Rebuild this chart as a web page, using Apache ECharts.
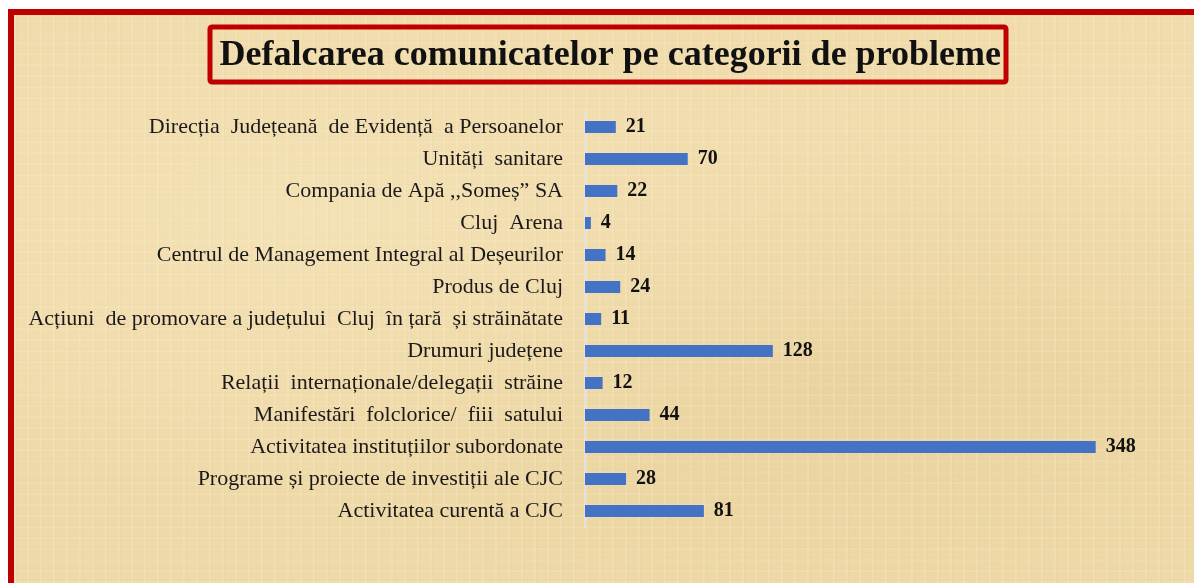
<!DOCTYPE html>
<html>
<head>
<meta charset="utf-8">
<script src="https://cdn.jsdelivr.net/npm/echarts@6/dist/echarts.min.js"></script>
<style>
  html, body {
    margin: 0;
    padding: 0;
    width: 1194px;
    height: 583px;
    background: #fff;
    overflow: hidden;
  }
  .frame {
    position: absolute;
    left: 8px;
    top: 9px;
    right: 0;
    bottom: 0;
    border-left: 6px solid #c00000;
    border-top: 6px solid #c00000;
    background-color: #eed9a8;
    background-image:
      repeating-linear-gradient(90deg, rgba(255, 244, 210, 0.18) 0 2px, rgba(205, 175, 115, 0.06) 2px 3px, rgba(255, 240, 200, 0) 3px 13px),
      repeating-linear-gradient(0deg, rgba(255, 244, 210, 0.12) 0 2px, rgba(205, 175, 115, 0.04) 2px 3px, rgba(255, 240, 200, 0) 3px 11px),
      radial-gradient(ellipse at 25% 35%, rgba(246, 228, 186, 0.7), rgba(230, 205, 150, 0) 55%),
      radial-gradient(ellipse at 70% 65%, rgba(228, 203, 148, 0.45), rgba(230, 205, 150, 0) 50%),
      radial-gradient(ellipse at 95% 20%, rgba(245, 225, 180, 0.5), rgba(230, 205, 150, 0) 40%);
  }
  #chart {
    position: absolute;
    left: 0;
    top: 0;
    width: 1194px;
    height: 583px;
  }
</style>
</head>
<body>
<div class="frame"></div>
<div id="chart"></div>
<script>
// categorii, de sus in jos
const categories = [
  'Direcția  Județeană  de Evidență  a Persoanelor',
  'Unități  sanitare',
  'Compania de Apă ,,Someș” SA',
  'Cluj  Arena',
  'Centrul de Management Integral al Deșeurilor',
  'Produs de Cluj',
  'Acțiuni  de promovare a județului  Cluj  în țară  și străinătate',
  'Drumuri județene',
  'Relații  internaționale/delegații  străine',
  'Manifestări  folclorice/  fiii  satului',
  'Activitatea instituțiilor subordonate',
  'Programe și proiecte de investiții ale CJC',
  'Activitatea curentă a CJC'
]
const values = [21, 70, 22, 4, 14, 24, 11, 128, 12, 44, 348, 28, 81]
const titleText = 'Defalcarea comunicatelor pe categorii de probleme'

function getOptions() {
  return {
    backgroundColor: 'transparent',
    animation: false,
    title: {
      text: titleText,
      left: 209.5,
      top: 26.5,
      padding: [10, 5, 8, 10],
      borderColor: '#c00000',
      borderWidth: 5,
      borderRadius: 2,
      textStyle: {
        fontFamily: '"Liberation Serif", "Times New Roman", serif',
        fontWeight: 'bold',
        fontSize: 36,
        lineHeight: 38,
        color: '#111'
      }
    },
    grid: {
      left: 585,
      right: 22,
      top: 111,
      bottom: 56,
      containLabel: false
    },
    xAxis: {
      type: 'value',
      min: 0,
      max: 400,
      show: false
    },
    yAxis: {
      type: 'category',
      inverse: true,
      data: categories,
      axisLine: {
        show: true,
        lineStyle: { color: 'rgba(225, 225, 232, 0.9)', width: 2 }
      },
      axisTick: { show: false },
      axisLabel: {
        margin: 22,
        fontFamily: '"Liberation Serif", "Times New Roman", serif',
        fontSize: 22,
        color: '#1a1a1a'
      }
    },
    series: [
      {
        type: 'bar',
        data: values,
        barWidth: 12,
        itemStyle: { color: '#4472c4' },
        label: {
          show: true,
          position: 'right',
          distance: 10,
          fontFamily: '"Liberation Serif", "Times New Roman", serif',
          fontWeight: 'bold',
          fontSize: 20,
          color: '#111'
        }
      }
    ]
  }
}

const myChart = echarts.init(document.getElementById('chart'), null, { renderer: 'canvas' })
myChart.setOption(getOptions())
</script>
</body>
</html>
